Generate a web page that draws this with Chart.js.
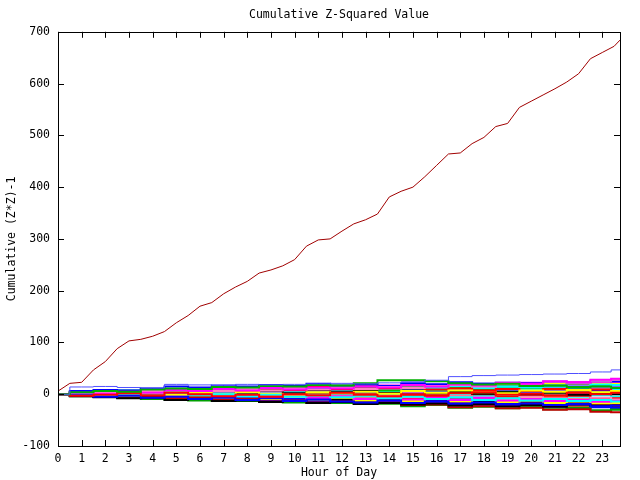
<!DOCTYPE html>
<html>
<head>
<meta charset="utf-8">
<script src="https://cdn.jsdelivr.net/npm/chart.js@4/dist/chart.umd.min.js"></script>
<style>
  html, body { margin: 0; padding: 0; background: #fff; }
  #wrap { width: 640px; height: 480px; }
</style>
</head>
<body>
<div id="wrap"><canvas id="chart" width="640" height="480"></canvas></div>
<script>
const FONT = 'DejaVu Sans Mono';
const FONT_SIZE = 11.5;

// hours for the big series (every half hour)
const redHours = [0, 0.5, 1, 1.5, 2, 2.5, 3, 3.5, 4, 4.5, 5, 5.5, 6, 6.5, 7, 7.5, 8, 8.5, 9, 9.5,
    10, 10.5, 11, 11.5, 12, 12.5, 13, 13.5, 14, 14.5, 15, 15.5, 16, 16.5, 17, 17.5, 18, 18.5, 19, 19.5,
    20, 20.5, 21, 21.5, 22, 22.5, 23, 23.5, 23.75];
const redValues = [6, 21, 23, 47, 63, 88, 103, 106, 112, 121, 138, 152, 170, 177, 194, 207, 218, 234, 240, 248,
    260, 286, 298, 300, 315, 329, 337, 348, 381, 392, 400, 420, 442, 464, 466, 484, 496, 517, 523, 554,
    566, 578, 590, 603, 619, 648, 660, 672, 684];

// hours for the small series
const hours = [0, 1, 2, 3, 4, 5, 6, 7, 8, 9, 10, 11, 12, 13, 14, 15, 16, 17, 18, 19, 20, 21, 22, 23, 23.75];

const xTicks = [0, 1, 2, 3, 4, 5, 6, 7, 8, 9, 10, 11, 12, 13, 14, 15, 16, 17, 18, 19, 20, 21, 22, 23];
const yTicks = [-100, 0, 100, 200, 300, 400, 500, 600, 700];

const smallSeries = [
    [0, 14, 15, 13, 12, 19, 18, 17, 19, 18, 19, 20, 21, 20, 22, 24, 27, 34, 36, 37, 38, 39, 40, 43, 47],
    [0, 4, 6, 5, 9, 11, 10, 14, 13, 16, 15, 18, 17, 21, 27, 27, 25, 21, 19, 20, 16, 17, 14, 15, 12],
    [0, -3, -1, 2, -2, 3, 0, -4, -1, -5, 0, -2, 3, -1, -4, 0, -3, 2, 4, -1, 1, -2, 3, 0, 3],
    [0, -2, -5, -3, -7, -5, -9, -7, -11, -8, -13, -10, -14, -16, -12, -17, -14, -18, -16, -20, -18, -21, -19, -23, -22],
    [0, 3, 1, 5, 3, 8, 6, 10, 7, 12, 9, 13, 11, 15, 13, 18, 15, 19, 17, 22, 20, 25, 23, 28, 30],
    [0, 2, -2, 1, -1, 3, -2, 0, -4, -1, -5, -2, -6, -3, -8, -5, -9, -6, -11, -8, -12, -9, -13, -11, -14],
    [0, 2, -1, -3, 1, -1, 3, 0, 4, 1, -1, 4, 2, 5, 1, 6, 3, 7, 4, 2, 7, 5, 8, 4, 6],
    [0, -4, -6, -8, -7, -11, -9, -13, -12, -15, -13, -17, -15, -19, -17, -20, -18, -22, -19, -23, -21, -24, -20, -22, -22],
    [0, 1, 4, 2, 6, 4, 8, 6, 10, 7, 11, 9, 13, 10, 14, 12, 16, 18, 15, 21, 19, 24, 22, 26, 28],
    [0, -2, -1, -5, -4, -8, -6, -11, -9, -14, -12, -16, -14, -19, -17, -21, -20, -25, -23, -27, -26, -30, -29, -34, -35],
    [0, -3, -2, -6, -5, -10, -8, -12, -10, -15, -13, -17, -15, -19, -18, -23, -21, -26, -24, -27, -25, -29, -27, -31, -30],
    [0, 6, 8, 7, 11, 15, 13, 17, 15, 18, 16, 20, 17, 19, 16, 21, 19, 23, 20, 22, 21, 24, 22, 26, 25],
    [0, 4, 1, 5, 3, 7, 4, 10, 6, 11, 8, 14, 10, 15, 11, 13, 9, 11, 7, 10, 6, 10, 7, 9, 6],
    [0, 5, 3, 7, 4, 10, 7, 11, 8, 13, 9, 14, 11, 15, 10, 14, 11, 16, 12, 15, 13, 17, 14, 19, 18],
    [0, -2, 0, -3, -1, -4, -1, -5, -2, -7, -3, -8, -4, -9, -5, -10, -6, -11, -7, -12, -9, -13, -10, -14, -13],
    [0, -3, 0, -4, -2, -6, -3, -7, -4, -9, -5, -10, -7, -12, -8, -13, -9, -14, -11, -15, -12, -17, -14, -18, -17],
    [0, 3, 0, 4, 1, 5, 2, 6, 3, 7, 2, 8, 4, 6, 2, 7, 3, 5, 1, 4, 0, 3, -1, 2, 0],
    [0, -2, 1, -1, 4, 1, 5, 2, 6, 3, 8, 4, 9, 6, 10, 7, 12, 8, 13, 10, 14, 11, 16, 13, 17],
    [0, 2, 4, 1, 3, 0, 5, 2, 7, 3, 8, 4, 9, 11, 7, 12, 9, 13, 11, 15, 12, 16, 13, 17, 18],
    [0, -3, -5, -2, -6, -8, -5, -9, -7, -12, -9, -13, -15, -11, -16, -18, -14, -19, -21, -17, -22, -24, -20, -25, -26],
    [0, -2, -4, -1, -5, -7, -2, -7, -9, -4, -10, -11, -6, -12, -13, -9, -15, -16, -11, -17, -18, -14, -20, -21, -20],
    [0, 4, 6, 3, 8, 10, 5, 11, 12, 7, 13, 15, 10, 16, 17, 12, 18, 20, 15, 21, 22, 17, 23, 24, 24],
    [0, -2, 2, 4, 0, 5, 1, 7, 2, 8, 4, 9, 5, 10, 6, 11, 7, 12, 6, 12, 8, 13, 9, 14, 11],
    [0, 3, 5, 7, 4, 9, 6, 11, 8, 13, 10, 14, 11, 15, 12, 17, 14, 18, 15, 19, 16, 20, 17, 21, 20],
    [0, -1, -4, -6, -3, -8, -5, -10, -7, -12, -9, -14, -11, -15, -12, -17, -14, -18, -15, -20, -16, -21, -18, -22, -21],
    [0, 0, -3, 1, -2, -4, 0, -5, -1, -3, -6, -2, -4, -8, -3, -6, -9, -4, -7, -10, -5, -8, -11, -7, -10],
    [0, 2, 3, 5, 2, 6, 3, 8, 4, 2, 6, 1, 5, 0, 3, -2, 1, -4, 0, -5, -2, -6, -3, -8, -8],
    [0, -4, -3, -7, -9, -8, -12, -9, -13, -11, -16, -13, -17, -15, -18, -16, -20, -17, -22, -19, -23, -21, -26, -24, -28],
    [0, 2, -1, 3, 0, 4, 5, 1, 6, 7, 3, 8, 9, 5, 10, 11, 7, 12, 13, 9, 14, 11, 10, 14, 13],
    [0, -3, -1, -4, -2, -5, -3, -7, -9, -5, -10, -7, -11, -12, -8, -13, -14, -10, -15, -16, -12, -17, -18, -15, -16],
    [0, 3, 0, -1, 2, -2, 1, -3, 0, 2, -1, -3, 2, 3, -1, -3, 0, 1, -3, -4, 0, -2, -5, -2, -5],
    [0, -2, -1, -4, -1, -5, -2, -6, -7, -3, -8, -5, -9, -10, -11, -7, -12, -13, -9, -14, -15, -16, -12, -17, -17],
    [0, 2, 4, 1, 5, 2, 0, 3, -1, 2, -2, 1, -3, 0, -4, -5, -1, -6, -7, -3, -8, -5, -9, -10, -11],
    [0, 4, 3, 7, 9, 6, 10, 12, 9, 13, 15, 11, 16, 17, 13, 18, 19, 15, 20, 17, 21, 23, 19, 24, 22],
    [0, -3, -5, -2, -6, -7, -9, -6, -10, -12, -9, -13, -14, -16, -13, -17, -18, -20, -17, -21, -23, -20, -25, -22, -25],
    [0, 3, 0, 4, 6, 3, 7, 4, 8, 5, 9, 10, 6, 11, 7, 12, 8, 6, 9, 5, 8, 4, 7, 3, 5],
    [0, 1, 3, 0, 4, 2, 5, 1, 6, 3, 7, 2, 8, 4, 9, 5, 10, 6, 12, 8, 13, 9, 15, 11, 14],
    [0, -1, 1, -2, 0, -3, -1, -4, -2, -5, -3, -6, -4, -7, -5, -9, -6, -10, -8, -11, -9, -12, -10, -13, -12],
    [0, 1, -2, 0, -3, 1, -2, 2, -1, 3, 0, 4, 1, 5, 2, 3, 0, 4, 1, 5, 2, 6, 3, 7, 5],
    [0, 2, 5, 3, 7, 5, 9, 6, 10, 8, 12, 9, 11, 13, 10, 14, 12, 15, 13, 16, 14, 17, 15, 18, 16],
    [0, -1, -3, -1, -4, -2, -6, -3, -7, -5, -8, -6, -10, -7, -11, -8, -12, -9, -13, -11, -14, -12, -15, -13, -15],
    [0, 1, -1, 2, 0, 3, 1, 4, 2, 5, 3, 6, 4, 7, 5, 9, 6, 10, 8, 11, 9, 12, 10, 13, 12],
    [0, -2, -4, -3, -6, -4, -7, -5, -9, -6, -10, -8, -11, -9, -13, -10, -14, -12, -15, -13, -16, -14, -17, -15, -16],
    [0, 3, 5, 2, 6, 4, 7, 5, 3, 6, 4, 8, 5, 9, 6, 4, 7, 5, 8, 6, 9, 7, 10, 8, 9]
];

const smallColors = ['#5050ff', '#00b000', '#ff0000', '#0000ff', '#ff00ff', '#00ffff', '#ffff00', '#000000',
    '#ff80c0', '#c00000', '#00a000', '#0000ff', '#ff0000', '#00ffff', '#ff00ff', '#ffff00', '#000000',
    '#8080ff', '#00c000', '#0000ff', '#ff0000', '#ff00ff', '#00ffff', '#ffff00', '#000000', '#ff80c0',
    '#ff0000', '#00a000', '#0000ff', '#ff00ff', '#00ffff', '#000000', '#ffff00', '#0000ff', '#ff0000', '#00c000',
    '#ff80c0', '#00b000', '#0000ff', '#ff0000', '#000000', '#ff00ff', '#ffff00', '#00ffff'];

const datasets = smallSeries.map((vals, i) => ({
    data: hours.map((h, j) => ({ x: h, y: vals[j] })),
    borderColor: smallColors[i % smallColors.length],
    borderWidth: i === 0 ? 1 : 2,
    pointRadius: 0,
    tension: 0,
    stepped: 'middle',
    fill: false
}));

datasets.push({
    data: redHours.map((h, j) => ({ x: h, y: redValues[j] })),
    borderColor: '#a00000',
    borderWidth: 1,
    pointRadius: 0,
    tension: 0,
    fill: false
});

// gnuplot style box with inward ticks on all four sides
const frame = {
    id: 'frame',
    afterDraw(chart) {
        const { ctx, chartArea: a, scales } = chart;
        ctx.save();
        ctx.strokeStyle = '#000';
        ctx.lineWidth = 1;
        ctx.beginPath();
        xTicks.forEach(v => {
            const px = Math.round(scales.x.getPixelForValue(v)) + 0.5;
            ctx.moveTo(px, a.bottom); ctx.lineTo(px, a.bottom - 6);
            ctx.moveTo(px, a.top); ctx.lineTo(px, a.top + 6);
        });
        yTicks.forEach(v => {
            const py = Math.round(scales.y.getPixelForValue(v)) + 0.5;
            ctx.moveTo(a.left, py); ctx.lineTo(a.left + 6, py);
            ctx.moveTo(a.right, py); ctx.lineTo(a.right - 6, py);
        });
        ctx.stroke();
        ctx.strokeRect(Math.round(a.left) + 0.5, Math.round(a.top) + 0.5,
            Math.round(a.right - a.left), Math.round(a.bottom - a.top));
        ctx.restore();
    }
};

Chart.defaults.font.family = FONT;
Chart.defaults.font.size = FONT_SIZE;
Chart.defaults.color = '#000';

new Chart(document.getElementById('chart'), {
    type: 'line',
    data: { datasets: datasets },
    options: {
        responsive: false,
        animation: false,
        events: [],
        layout: { padding: { left: 0, right: 20, top: 0, bottom: 0 } },
        plugins: {
            legend: { display: false },
            tooltip: { enabled: false },
            title: {
                display: true,
                fullSize: false,
                text: 'Cumulative Z-Squared Value',
                font: { family: FONT, size: FONT_SIZE, weight: 'normal' },
                color: '#000',
                padding: { top: 8, bottom: 10 }
            }
        },
        scales: {
            x: {
                type: 'linear',
                min: 0,
                max: 23.75,
                grid: { display: false, drawTicks: false },
                border: { display: false },
                afterFit: s => { s.height = 34; },
                afterBuildTicks: s => { s.ticks = xTicks.map(v => ({ value: v })); },
                ticks: { padding: 6, autoSkip: false, maxRotation: 0 },
                title: { display: true, text: 'Hour of Day', padding: { top: 0, bottom: 0 } }
            },
            y: {
                type: 'linear',
                min: -100,
                max: 700,
                grid: { display: false, drawTicks: false },
                border: { display: false },
                afterFit: s => { s.width = 58; },
                afterBuildTicks: s => { s.ticks = yTicks.map(v => ({ value: v })); },
                ticks: { padding: 8 },
                title: { display: true, text: 'Cumulative (Z*Z)-1', padding: { top: 5, bottom: 0 } }
            }
        }
    },
    plugins: [frame]
});
</script>
</body>
</html>
